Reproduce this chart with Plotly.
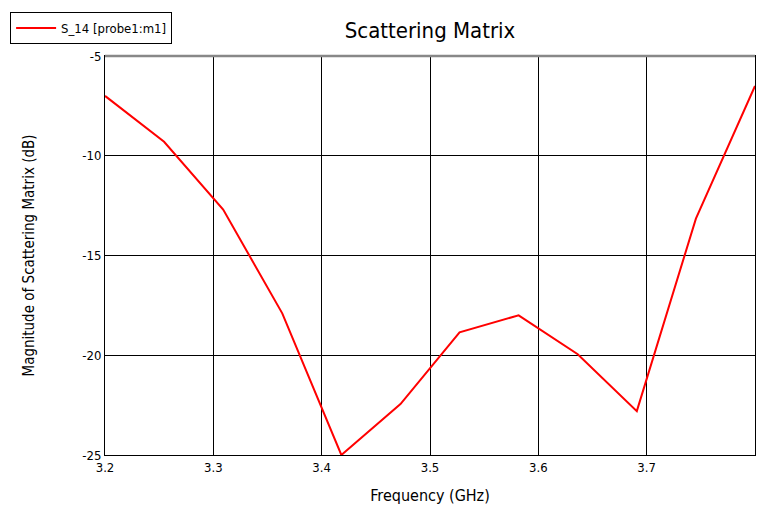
import plotly.graph_objects as go

freq_ghz = [3.2, 3.254545, 3.309091, 3.363636, 3.418182, 3.472727,
            3.527273, 3.581818, 3.636364, 3.690909, 3.745455, 3.8]
s14_db = [-7.0, -9.3, -12.7, -17.9, -25.0, -22.45,
          -18.85, -18.0, -19.95, -22.8, -13.15, -6.5]
x_ticks = [3.2, 3.3, 3.4, 3.5, 3.6, 3.7, 3.8]
y_ticks = [-25, -20, -15, -10, -5]

FONT = "DejaVu Sans Condensed, DejaVu Sans, sans-serif"

fig = go.Figure()
fig.add_trace(go.Scatter(
    x=freq_ghz, y=s14_db, mode="lines", name="S_14 [probe1:m1]",
    line=dict(color="#ff0000", width=2),
))

fig.update_layout(
    width=757, height=507,
    margin=dict(l=105, r=2, t=56, b=52),
    paper_bgcolor="white", plot_bgcolor="white",
    font=dict(family=FONT, color="black", size=12),
    title=dict(text="Scattering Matrix", x=(105 + 755) / 2 / 757, xanchor="center",
               y=1 - 30 / 507, yanchor="middle",
               font=dict(size=22, family=FONT, color="black")),
    showlegend=True,
    legend=dict(x=-0.146, y=1.11, xanchor="left", yanchor="top",
                bordercolor="black", borderwidth=1, bgcolor="white",
                font=dict(size=13, family=FONT), itemwidth=40,
                tracegroupgap=0),
    xaxis=dict(range=[3.2, 3.8], tickvals=x_ticks, ticktext=[f"{v:.1f}" for v in x_ticks],
               showgrid=True, gridcolor="black", gridwidth=1,
               showline=True, linecolor="black", linewidth=1, mirror=True,
               ticks="", zeroline=False,
               title=dict(text="Frequency (GHz)", font=dict(size=16, family=FONT), standoff=16),
               tickfont=dict(size=13, family=FONT)),
    yaxis=dict(range=[-25, -5], tickvals=y_ticks, ticktext=[str(v) for v in y_ticks],
               showgrid=True, gridcolor="black", gridwidth=1,
               showline=True, linecolor="black", linewidth=1, mirror=True,
               ticks="", zeroline=False,
               title=dict(text="Magnitude of Scattering Matrix (dB)", font=dict(size=15, family=FONT), standoff=44),
               tickfont=dict(size=13, family=FONT)),
)

fig.add_shape(type="line", xref="paper", yref="paper", x0=0, x1=1, y0=1, y1=1,
              line=dict(color="#888888", width=2.5))

fig.write_html("out.html")
